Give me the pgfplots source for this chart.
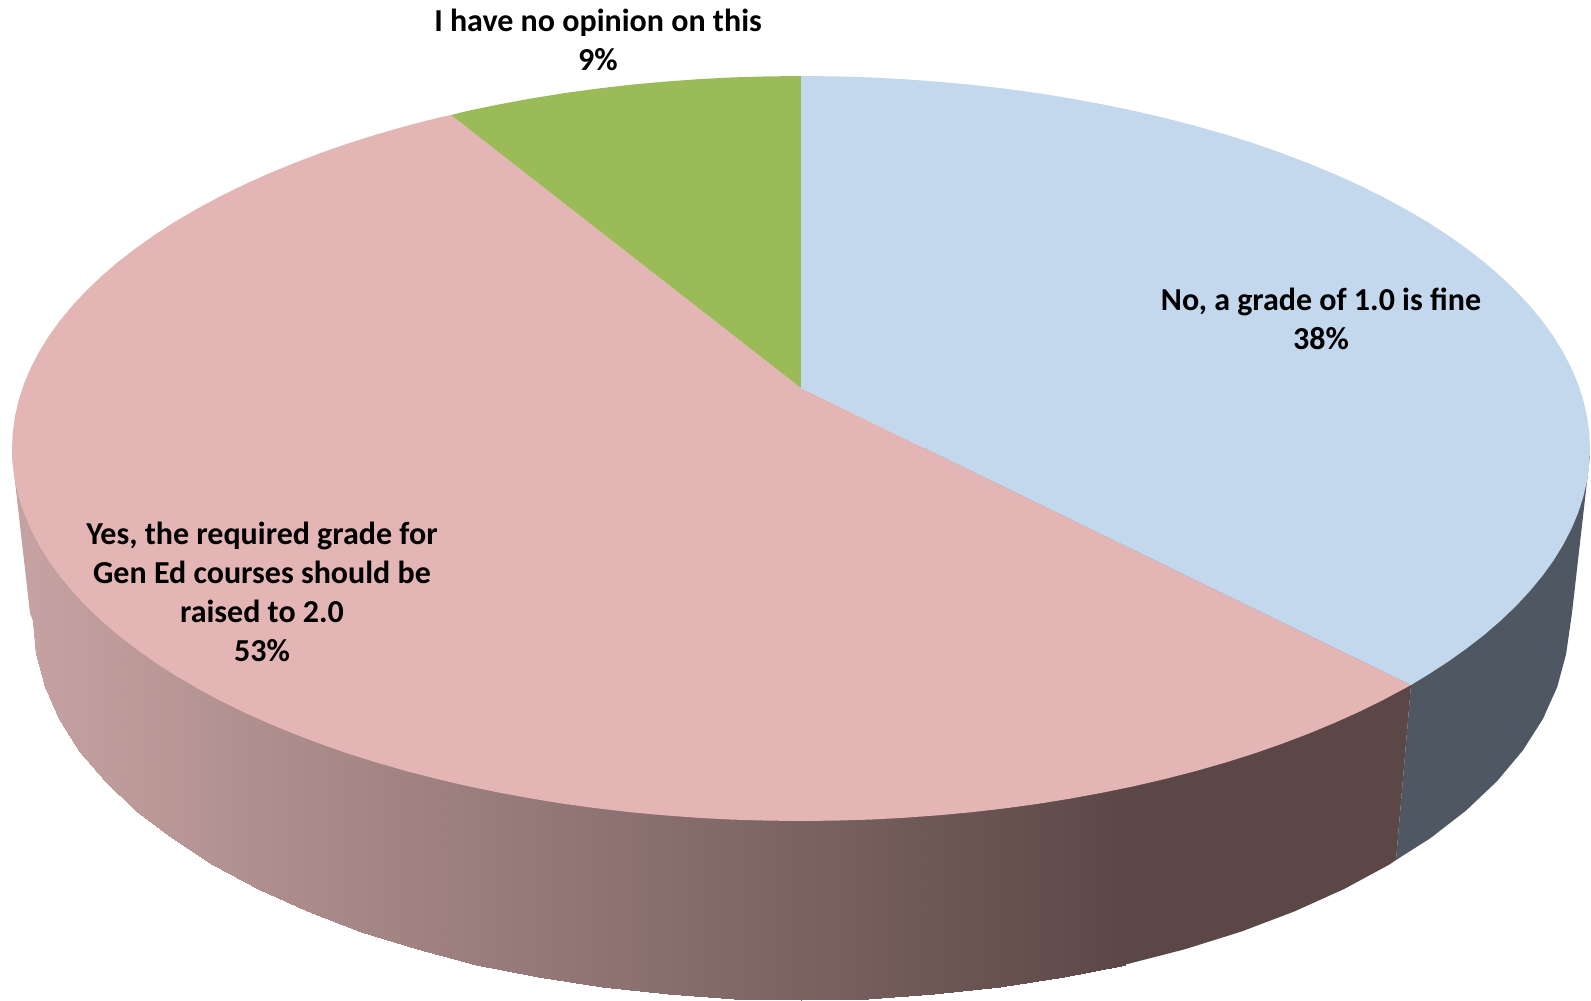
\documentclass[border=0pt]{standalone}
\usepackage{pgfplots}
\pgfplotsset{compat=1.18}
\usepackage{fontspec}
\setmainfont{Carlito}

\definecolor{topblue}{RGB}{195,215,237}
\definecolor{toppink}{RGB}{227,181,180}
\definecolor{topgreen}{RGB}{155,187,89}
\definecolor{sideblue}{RGB}{79,88,98}
\definecolor{sidedark}{RGB}{91,72,70}
\definecolor{sidelight}{RGB}{197,162,161}

\begin{document}
\begin{tikzpicture}
\begin{axis}[
    scale only axis,
    width=1591pt, height=1001pt,
    xmin=0, xmax=1591,
    ymin=0, ymax=1001,
    y dir=reverse,
    hide axis,
    clip=false,
    colormap={pieside}{rgb255=(197,162,161) rgb255=(91,72,70)},
    colormap name=pieside,
    point meta min=33, point meta max=1125.6,
]
% side, No slice
\addplot[fill=sideblue, draw=none] coordinates {
    (1411,685)(1590,455)(1572,613)(1566.1,654)(1557.3,686.8)(1542.8,719.1)
    (1522.7,750.6)(1497,781.2)(1466.1,810.5)(1430.1,838.4)(1396,860)
} --cycle;
% side, Yes slice: left sliver, gradient band, dark end
\addplot[fill=sidelight, draw=none] coordinates {
    (12,455)(30,613)(33,621)(35.9,654)(44,448)
} --cycle;
\addplot[surf, shader=interp, mesh/rows=2, point meta=x] table {
x y
33 448
35.9 448
44.7 448
59.2 448
79.3 448
105 448
135.9 448
171.9 448
212.7 448
257.9 448
307.3 448
360.5 448
417 448
476.4 448
538.3 448
602.2 448
667.7 448
734 448
801 448
868 448
934.3 448
999.8 448
1063.7 448
1125.6 448

33 621
35.9 654
44.7 686.8
59.2 719.1
79.3 750.6
105 781.2
135.9 810.5
171.9 838.4
212.7 864.6
257.9 889
307.3 911.3
360.5 931.5
417 949.2
476.4 964.5
538.3 977.1
602.2 987.1
667.7 994.2
734 998.6
801 1000
868 998.6
934.3 994.2
999.8 987.1
1063.7 977.1
1125.6 964.5
};
\addplot[fill=sidedark, draw=none] coordinates {
    (1125.6,448)(1411,685)(1396,860)(1389.3,864.6)(1344.1,889)(1294.7,911.3)
    (1241.5,931.5)(1185,949.2)(1125.6,964.5)
} --cycle;
% top face, Yes 53%
\addplot[fill=toppink, draw=none] coordinates {
    (801,388)(1411,685)(1382.7,700.2)(1358.9,711.9)(1334,723.1)(1308.2,733.8)
    (1281.3,744)(1253.6,753.7)(1224.9,762.7)(1195.5,771.1)(1165.3,778.9)(1134.4,786.1)
    (1102.9,792.6)(1070.8,798.5)(1038.3,803.8)(1005.2,808.3)(971.8,812.2)(938,815.3)
    (904,817.8)(869.8,819.6)(835.4,820.6)(801,821)(766.6,820.6)(732.2,819.6)
    (698,817.8)(664,815.3)(630.2,812.2)(596.8,808.3)(563.7,803.8)(531.2,798.5)
    (499.1,792.6)(467.6,786.1)(436.7,778.9)(406.5,771.1)(377.1,762.7)(348.4,753.7)
    (320.7,744)(293.8,733.8)(268,723.1)(243.1,711.9)(219.3,700.2)(196.6,687.9)
    (175,675.3)(154.7,662.2)(135.6,648.6)(117.7,634.8)(101.2,620.5)(85.9,605.9)
    (72.1,591)(59.6,575.9)(48.5,560.5)(38.9,544.9)(30.7,529.1)(24,513.2)
    (18.8,497.1)(15,481)(12.75,464.75)(12,448.5)(12.75,432.25)(15,416)
    (18.8,399.9)(24,383.8)(30.7,367.9)(38.9,352.1)(48.5,336.5)(59.6,321.1)
    (72.1,306)(85.9,291.1)(101.2,276.5)(117.7,262.2)(135.6,248.4)(154.7,234.8)
    (175,221.7)(196.6,209.1)(219.3,196.8)(243.1,185.1)(268,173.9)(293.8,163.2)
    (320.7,153)(348.4,143.3)(377.1,134.3)(406.5,125.9)(436.7,118.1)(451,115)
} --cycle;
% top face, no opinion 9%
\addplot[fill=topgreen, draw=none] coordinates {
    (801,388)(451,115)(467.6,110.9)(499.1,104.4)(531.2,98.5)(563.7,93.2)(596.8,88.7)
    (630.2,84.8)(664,81.7)(698,79.2)(732.2,77.4)(766.6,76.4)(801,76)
} --cycle;
% top face, No 38%
\addplot[fill=topblue, draw=none] coordinates {
    (801,388)(801,76)(835.4,76.4)(869.8,77.4)(904,79.2)(938,81.7)(971.8,84.8)
    (1005.2,88.7)(1038.3,93.2)(1070.8,98.5)(1102.9,104.4)(1134.4,110.9)(1165.3,118.1)
    (1195.5,125.9)(1224.9,134.3)(1253.6,143.3)(1281.3,153)(1308.2,163.2)(1334,173.9)
    (1358.9,185.1)(1382.7,196.8)(1405.4,209.1)(1427,221.7)(1447.3,234.8)(1466.4,248.4)
    (1484.3,262.2)(1500.8,276.5)(1516.1,291.1)(1529.9,306)(1542.4,321.1)(1553.5,336.5)
    (1563.1,352.1)(1571.3,367.9)(1578,383.8)(1583.2,399.9)(1587,416)(1589.25,432.25)
    (1590,448.5)(1589.25,464.75)(1587,481)(1583.2,497.1)(1578,513.2)(1571.3,529.1)
    (1563.1,544.9)(1553.5,560.5)(1542.4,575.9)(1529.9,591)(1516.1,605.9)(1500.8,620.5)
    (1484.3,634.8)(1466.4,648.6)(1447.3,662.2)(1427,675.3)(1411,685)
} --cycle;

\node[align=center, font=\fontsize{32}{39}\selectfont\bfseries] at (axis cs:598,39.5)
    {I have no opinion on this\\9\%};
\node[align=center, font=\fontsize{32}{39}\selectfont\bfseries] at (axis cs:1321,318.5)
    {No, a grade of 1.0 is fine\\38\%};
\node[align=center, font=\fontsize{32}{39}\selectfont\bfseries] at (axis cs:262,592)
    {Yes, the required grade for\\Gen Ed courses should be\\raised to 2.0\\53\%};
\path[use as bounding box] (axis cs:0,0) rectangle (axis cs:1591,1001);
\end{axis}
\end{tikzpicture}
\end{document}
